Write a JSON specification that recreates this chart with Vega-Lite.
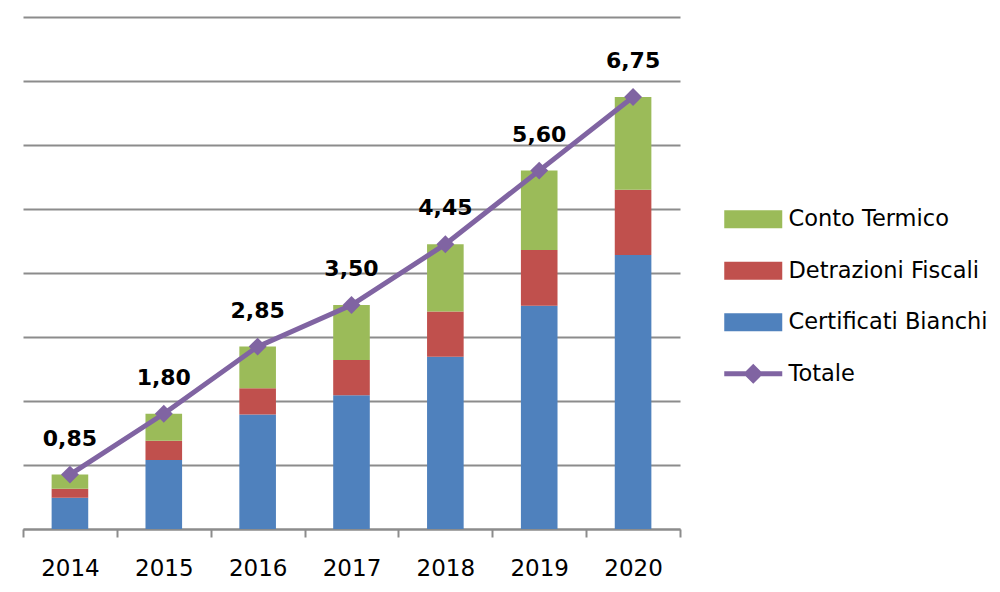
{
  "$schema": "https://vega.github.io/schema/vega-lite/v6.json",
  "autosize": "none",
  "width": 657,
  "height": 512,
  "padding": {"left": 23, "top": 17, "right": 320, "bottom": 63},
  "background": "white",
  "config": {
    "view": {"stroke": null},
    "font": "DejaVu Sans",
    "locale": {"number": {"decimal": ",", "thousands": ".", "grouping": [3], "currency": ["", " €"]}}
  },
  "datasets": {
    "comp": [
      {"anno": "2014", "serie": "Certificati Bianchi", "valore": 0.49},
      {"anno": "2014", "serie": "Detrazioni Fiscali", "valore": 0.14},
      {"anno": "2014", "serie": "Conto Termico", "valore": 0.22},
      {"anno": "2015", "serie": "Certificati Bianchi", "valore": 1.08},
      {"anno": "2015", "serie": "Detrazioni Fiscali", "valore": 0.30},
      {"anno": "2015", "serie": "Conto Termico", "valore": 0.42},
      {"anno": "2016", "serie": "Certificati Bianchi", "valore": 1.79},
      {"anno": "2016", "serie": "Detrazioni Fiscali", "valore": 0.41},
      {"anno": "2016", "serie": "Conto Termico", "valore": 0.65},
      {"anno": "2017", "serie": "Certificati Bianchi", "valore": 2.09},
      {"anno": "2017", "serie": "Detrazioni Fiscali", "valore": 0.55},
      {"anno": "2017", "serie": "Conto Termico", "valore": 0.86},
      {"anno": "2018", "serie": "Certificati Bianchi", "valore": 2.69},
      {"anno": "2018", "serie": "Detrazioni Fiscali", "valore": 0.71},
      {"anno": "2018", "serie": "Conto Termico", "valore": 1.05},
      {"anno": "2019", "serie": "Certificati Bianchi", "valore": 3.49},
      {"anno": "2019", "serie": "Detrazioni Fiscali", "valore": 0.87},
      {"anno": "2019", "serie": "Conto Termico", "valore": 1.24},
      {"anno": "2020", "serie": "Certificati Bianchi", "valore": 4.28},
      {"anno": "2020", "serie": "Detrazioni Fiscali", "valore": 1.02},
      {"anno": "2020", "serie": "Conto Termico", "valore": 1.45}
    ],
    "tot": [
      {"anno": "2014", "totale": 0.85},
      {"anno": "2015", "totale": 1.80},
      {"anno": "2016", "totale": 2.85},
      {"anno": "2017", "totale": 3.50},
      {"anno": "2018", "totale": 4.45},
      {"anno": "2019", "totale": 5.60},
      {"anno": "2020", "totale": 6.75}
    ]
  },
  "encoding": {
    "x": {
      "field": "anno",
      "type": "ordinal",
      "scale": {"paddingInner": 0, "paddingOuter": 0},
      "axis": {
        "title": null,
        "labelAngle": 0,
        "labelFontSize": 23,
        "labelColor": "black",
        "labelPadding": 20,
        "domainColor": "#8c8c8c",
        "domainWidth": 2,
        "tickColor": "#8c8c8c",
        "tickWidth": 2,
        "tickSize": 8,
        "tickBand": "extent",
        "grid": false
      }
    }
  },
  "layer": [
    {
      "data": {"name": "comp"},
      "transform": [
        {"calculate": "indexof(['Certificati Bianchi', 'Detrazioni Fiscali', 'Conto Termico'], datum.serie)", "as": "ordine"}
      ],
      "mark": {"type": "bar", "width": {"band": 0.39}},
      "encoding": {
        "y": {
          "field": "valore",
          "type": "quantitative",
          "stack": "zero",
          "scale": {"domain": [0, 8], "nice": false},
          "axis": {
            "title": null,
            "labels": false,
            "ticks": false,
            "domain": false,
            "grid": true,
            "gridColor": "#8c8c8c",
            "gridWidth": 2,
            "tickCount": 8
          }
        },
        "color": {
          "field": "serie",
          "type": "nominal",
          "sort": ["Conto Termico", "Detrazioni Fiscali", "Certificati Bianchi", "Totale"],
          "scale": {
            "domain": ["Conto Termico", "Detrazioni Fiscali", "Certificati Bianchi", "Totale"],
            "range": ["#9BBB59", "#C0504D", "#4F81BD", "#8064A2"]
          },
          "legend": {
            "orient": "none",
            "legendX": 700,
            "legendY": 191,
            "title": null,
            "symbolType": "M-2.9,-0.9H2.9V0.9H-2.9Z",
            "symbolSize": 400,
            "symbolOffset": 19,
            "labelOffset": 24,
            "labelFontSize": 22.5,
            "labelLimit": 400,
            "labelColor": "black",
            "rowPadding": 28.5,
            "symbolStrokeWidth": 0,
            "encode": {
              "symbols": {
                "update": {
                  "shape": {"signal": "datum.value === 'Totale' ? 'M-2.9,-0.25H2.9V0.25H-2.9Z M0,-1L1,0L0,1L-1,0Z' : 'M-2.9,-0.9H2.9V0.9H-2.9Z'"}
                }
              }
            }
          }
        },
        "order": {"field": "ordine", "type": "quantitative", "sort": "ascending"}
      }
    },
    {
      "data": {"name": "tot"},
      "mark": {
        "type": "line",
        "color": "#8064A2",
        "strokeWidth": 5,
        "point": {"shape": "diamond", "size": 320, "filled": true, "color": "#8064A2", "opacity": 1}
      },
      "encoding": {
        "y": {"field": "totale", "type": "quantitative"}
      }
    },
    {
      "data": {"name": "tot"},
      "mark": {"type": "text", "fontWeight": "bold", "fontSize": 22, "dy": -36, "baseline": "middle", "color": "black"},
      "encoding": {
        "y": {"field": "totale", "type": "quantitative"},
        "text": {"field": "totale", "type": "quantitative", "format": ".2f"}
      }
    }
  ]
}
